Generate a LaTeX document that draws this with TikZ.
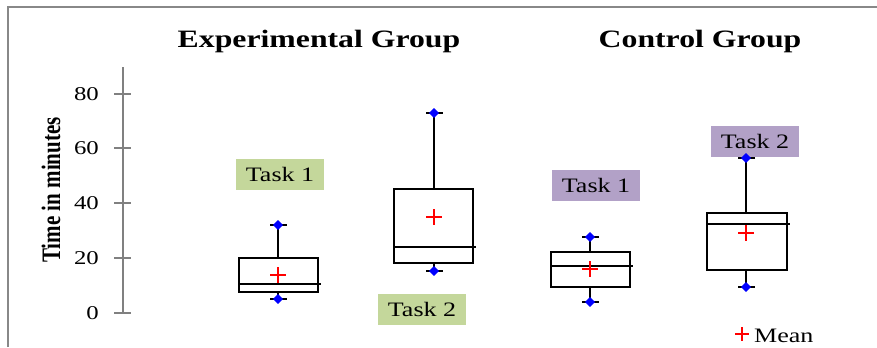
\documentclass[tikz,border=0pt]{standalone}
\usepackage{fontspec}
\setmainfont{Liberation Serif}
\usepackage{graphicx}
\usepackage{xcolor}
\usetikzlibrary{plotmarks}
\definecolor{taskgreen}{RGB}{196,215,155}
\definecolor{taskpurple}{RGB}{178,161,199}
\definecolor{framegray}{RGB}{136,136,136}
\newcommand{\wide}[1]{\scalebox{1.27}[1]{#1}}

\begin{document}
\begin{tikzpicture}[x=1bp, y=-1bp]
\useasboundingbox (0,0) rectangle (877,347);
% frame and axis
\draw[framegray, line width=1.5bp] (8,347) -- (8,7) -- (877,7);
\draw[gray, line width=2bp] (123,67) -- (123,313);
\draw[gray, line width=2bp] (114,94) -- (131,94) (114,148) -- (131,148) (114,203) -- (131,203) (114,258) -- (131,258) (114,313) -- (131,313);
\node[anchor=east, inner sep=0, font=\fontsize{19.5bp}{22bp}\selectfont] (t80) at (99,94) {\wide{80}};
\node[anchor=east, inner sep=0, font=\fontsize{19.5bp}{22bp}\selectfont] (t60) at (99,148) {\wide{60}};
\node[anchor=east, inner sep=0, font=\fontsize{19.5bp}{22bp}\selectfont] (t40) at (99,203) {\wide{40}};
\node[anchor=east, inner sep=0, font=\fontsize{19.5bp}{22bp}\selectfont] (t20) at (99,258) {\wide{20}};
\node[anchor=east, inner sep=0, font=\fontsize{19.5bp}{22bp}\selectfont] (t0) at (99,313) {\wide{0}};
\node[rotate=90, inner sep=0, font=\fontsize{21bp}{24bp}\selectfont\bfseries] (ylabel) at (51,190) {\scalebox{1}[1.27]{Time in minutes}};
% titles
\node[anchor=base, inner sep=0, font=\fontsize{25bp}{30bp}\selectfont\bfseries] (expgroup) at (319,47) {\wide{Experimental Group}};
\node[anchor=base, inner sep=0, font=\fontsize{25bp}{30bp}\selectfont\bfseries] (ctrlgroup) at (700,47) {\wide{Control Group}};
% task labels
\node[fill=taskgreen, minimum width=88bp, minimum height=31bp, inner sep=0, font=\fontsize{20.5bp}{24bp}\selectfont] (exptask1) at (280,174) {\wide{Task 1}};
\node[fill=taskgreen, minimum width=88bp, minimum height=31bp, inner sep=0, font=\fontsize{20.5bp}{24bp}\selectfont] (exptask2) at (422,309) {\wide{Task 2}};
\node[fill=taskpurple, minimum width=88bp, minimum height=31bp, inner sep=0, font=\fontsize{20.5bp}{24bp}\selectfont] (ctrltask1) at (596,185) {\wide{Task 1}};
\node[fill=taskpurple, minimum width=88bp, minimum height=31bp, inner sep=0, font=\fontsize{20.5bp}{24bp}\selectfont] (ctrltask2) at (755,141) {\wide{Task 2}};
% boxes
\draw[line width=2.2bp] (239,258) rectangle (318,292) (239,284) -- (321,284);
\draw[line width=2.2bp] (278,258) -- (278,225) (270,225) -- (287,225) (278,292) -- (278,299) (270,299) -- (287,299);
\draw[line width=2.2bp] (394,189) rectangle (473,263) (394,247) -- (476,247);
\draw[line width=2.2bp] (434,189) -- (434,113) (426,113) -- (443,113) (434,263) -- (434,271) (426,271) -- (443,271);
\draw[line width=2.2bp] (551,252) rectangle (630,287) (551,266) -- (633,266);
\draw[line width=2.2bp] (590,252) -- (590,237) (582,237) -- (599,237) (590,287) -- (590,302) (582,302) -- (599,302);
\draw[line width=2.2bp] (707,213) rectangle (787,270) (707,224) -- (790,224);
\draw[line width=2.2bp] (746,213) -- (746,158) (738,158) -- (755,158) (746,270) -- (746,287) (738,287) -- (755,287);
\draw[only marks, mark=diamond*, mark size=4.5bp, mark options={blue, xscale=1.4}] plot coordinates {(278,225) (278,299) (434,113) (434,271) (590,237) (590,302) (746,158) (746,287)};
\draw[only marks, mark=+, mark size=8bp, mark options={red, line width=2bp}] plot coordinates {(278,275) (434,217) (590,269) (746,233)};
% legend
\draw[only marks, mark=+, mark size=7bp, mark options={red, line width=2bp}] plot coordinates {(742,334)};
\node[anchor=base west, inner sep=0, font=\fontsize{20.5bp}{24bp}\selectfont] (meanlabel) at (754,342) {\wide{Mean}};
\end{tikzpicture}
\end{document}
